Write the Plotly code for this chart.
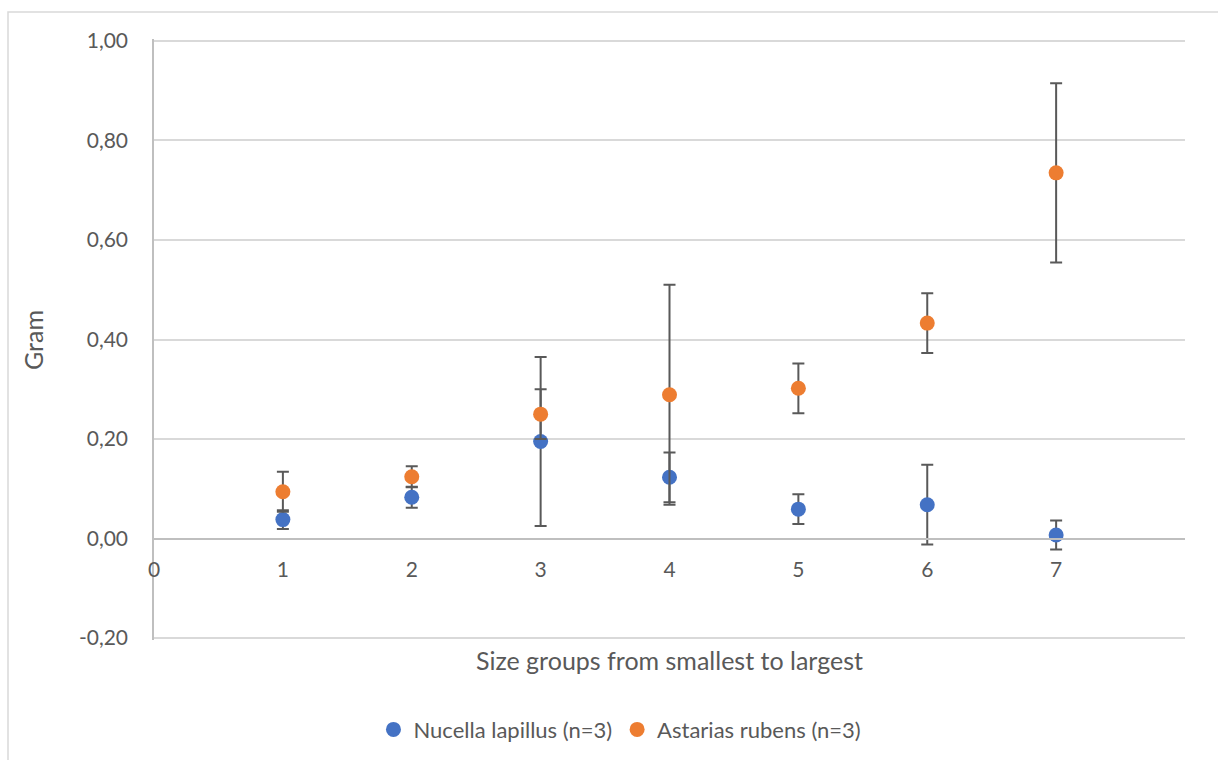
import plotly.graph_objects as go

groups = [1, 2, 3, 4, 5, 6, 7]
nucella_mean = [0.038, 0.083, 0.195, 0.123, 0.059, 0.068, 0.007]
nucella_err = [0.019, 0.021, 0.170, 0.050, 0.030, 0.080, 0.029]
asterias_mean = [0.094, 0.124, 0.250, 0.289, 0.302, 0.433, 0.735]
asterias_err = [0.040, 0.021, 0.050, 0.221, 0.050, 0.060, 0.180]
y_ticks = [-0.2, 0.0, 0.2, 0.4, 0.6, 0.8, 1.0]
y_tick_text = ["-0,20", "0,00", "0,20", "0,40", "0,60", "0,80", "1,00"]
x_ticks = [0, 1, 2, 3, 4, 5, 6, 7]

FONT = "Lato, Carlito, Calibri, sans-serif"
TXT = "#595959"
ERR = "#595959"
TICK_SIZE = 21
LEGEND_SIZE = 22
TITLE_SIZE = 25

Y0, Y1 = -0.204, 1.004
PLOT_TOP, PLOT_BOT = 39, 640  # pixel rows of the plot domain

fig = go.Figure()
fig.add_trace(go.Scatter(
    x=groups, y=nucella_mean, mode="markers", name="Nucella lapillus (n=3)",
    marker=dict(color="#4472C4", size=15),
    error_y=dict(type="data", array=nucella_err, visible=True, color=ERR, thickness=2, width=6),
))
fig.add_trace(go.Scatter(
    x=groups, y=asterias_mean, mode="markers", name="Astarias rubens (n=3)",
    marker=dict(color="#ED7D31", size=15),
    error_y=dict(type="data", array=asterias_err, visible=True, color=ERR, thickness=2, width=6),
))

H = PLOT_BOT - PLOT_TOP
# outer chart frame
fig.add_shape(type="rect", xref="paper", yref="paper",
              x0=(8 - 154) / 1031, x1=1.06, y0=-0.25, y1=(PLOT_BOT - 12) / H,
              line=dict(color="#d9d9d9", width=1.5), fillcolor="rgba(0,0,0,0)", layer="below")

fig.update_layout(
    width=1218, height=760,
    margin=dict(l=154, r=33, t=PLOT_TOP, b=760 - PLOT_BOT),
    paper_bgcolor="white", plot_bgcolor="white",
    font=dict(family=FONT, size=TICK_SIZE, color=TXT),
    showlegend=True,
    legend=dict(orientation="h", xref="container", yref="container",
                x=0.509, y=0.04, xanchor="center", yanchor="middle",
                font=dict(size=LEGEND_SIZE, color=TXT), itemwidth=30, tracegroupgap=0),
    xaxis=dict(range=[0, 8], tickvals=x_ticks, ticktext=[str(v) for v in x_ticks],
               showgrid=False, zeroline=False, showline=True, linecolor="#bfbfbf", linewidth=1.5,
               anchor="free", position=(0 - Y0) / (Y1 - Y0), ticks="", ticklabelstandoff=13,
               tickfont=dict(size=TICK_SIZE, color=TXT), fixedrange=True),
    yaxis=dict(range=[Y0, Y1], tickvals=y_ticks, ticktext=y_tick_text,
               showgrid=True, gridcolor="#d9d9d9", gridwidth=1.5, zeroline=False,
               showline=True, linecolor="#bfbfbf", linewidth=1.5, ticks="",
               ticklabelstandoff=20,
               tickfont=dict(size=TICK_SIZE, color=TXT)),
)

fig.add_annotation(text="Size groups from smallest to largest", xref="paper", yref="paper",
                   x=0.5, y=(PLOT_BOT - 660) / H, xanchor="center", yanchor="middle", showarrow=False,
                   font=dict(size=TITLE_SIZE, color=TXT, family=FONT))
fig.add_annotation(text="Gram", xref="paper", yref="paper", textangle=-90,
                   x=(33 - 154) / 1031, y=(PLOT_BOT - 340) / H, xanchor="center", yanchor="middle",
                   showarrow=False, font=dict(size=TITLE_SIZE, color=TXT, family=FONT))

fig.write_html("out.html")
